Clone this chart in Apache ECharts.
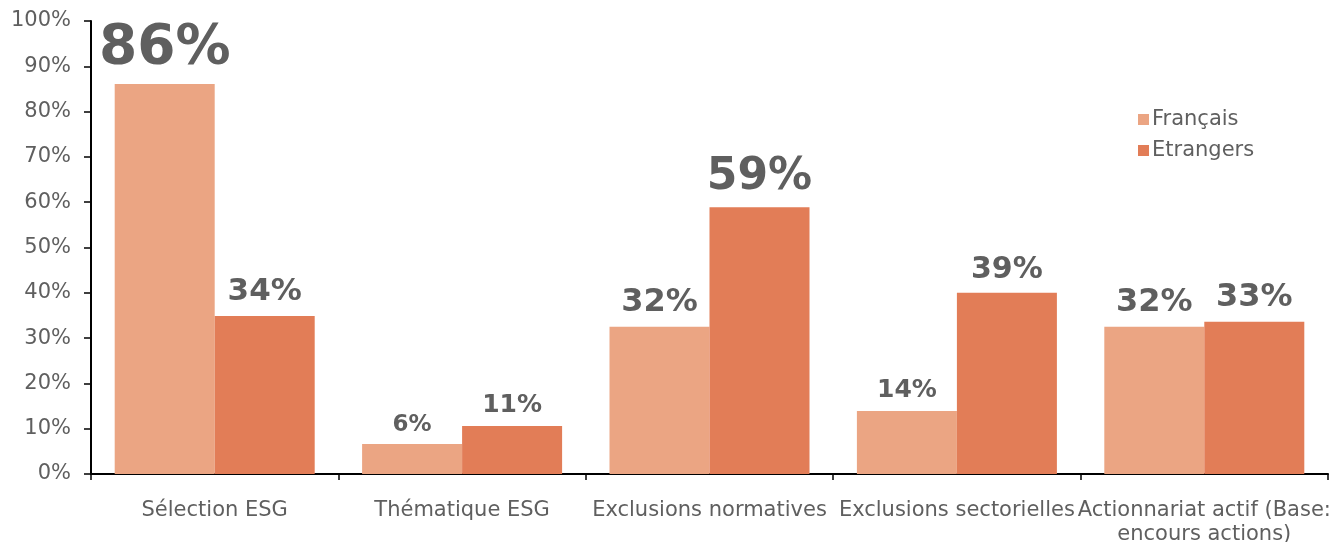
<!DOCTYPE html>
<html><head><meta charset="utf-8">
<script src="https://cdn.jsdelivr.net/npm/echarts@6/dist/echarts.min.js"></script>
<style>html,body{margin:0;padding:0;background:#fff}#c{width:1330px;height:542px}</style>
</head><body><div id="c"></div>
<script>
const categories = ['Sélection ESG', 'Thématique ESG', 'Exclusions normatives', 'Exclusions sectorielles', 'Actionnariat actif (Base:\nencours actions)'];
const francais = [86.1, 6.6, 32.5, 13.9, 32.5];
const etrangers = [34.9, 10.6, 58.9, 40.0, 33.6];
const francaisLabels = ['86%', '6%', '32%', '14%', '32%'];
const etrangersLabels = ['34%', '11%', '59%', '39%', '33%'];
const yTicks = [0, 10, 20, 30, 40, 50, 60, 70, 80, 90, 100];

// styles (separate from data)
const frSizes = [55, 23, 32, 25, 32];
const etSizes = [31, 25, 44, 30, 32];
const FONT = 'DejaVu Sans';
const GREY = '#5f5f5f';

function mk(values, labels, sizes) {
  return values.map((v, i) => ({
    value: v,
    label: { formatter: labels[i], fontSize: sizes[i] }
  }));
}

const chart = echarts.init(document.getElementById('c'));
chart.setOption({
  animation: false,
  textStyle: { fontFamily: FONT },
  grid: { left: 91, right: 2, top: 21, bottom: 68, containLabel: false, outerBoundsMode: 'none' },
  legend: {
    orient: 'vertical', left: 1133, top: 104,
    itemWidth: 11, itemHeight: 11, itemGap: 10,
    icon: 'rect',
    textStyle: { fontFamily: FONT, fontSize: 21, color: GREY, padding: [0, 0, 0, -2] },
    data: ['Français', 'Etrangers']
  },
  xAxis: {
    type: 'category', data: categories,
    axisLine: { lineStyle: { color: '#000', width: 2 } },
    axisTick: { show: true, length: 6, lineStyle: { color: '#000', width: 1.5 } },
    axisLabel: { interval: 0, margin: 25, fontSize: 21, color: GREY, lineHeight: 24, fontFamily: FONT, hideOverlap: false }
  },
  yAxis: {
    type: 'value', min: yTicks[0], max: yTicks[yTicks.length - 1], interval: 10,
    axisLine: { show: true, lineStyle: { color: '#000', width: 2 } },
    axisTick: { show: true, length: 7, lineStyle: { color: '#000', width: 1.5 } },
    splitLine: { show: false },
    axisLabel: { formatter: '{value}%', fontSize: 21, color: GREY, margin: 20, fontFamily: FONT }
  },
  series: [
    {
      name: 'Français', type: 'bar', barWidth: 100, barGap: '0%',
      itemStyle: { color: '#EBA583' },
      label: { show: true, position: 'top', distance: 8, fontWeight: 'bold', color: GREY, fontFamily: FONT },
      data: mk(francais, francaisLabels, frSizes)
    },
    {
      name: 'Etrangers', type: 'bar', barWidth: 100, barGap: '0%',
      itemStyle: { color: '#E27D57' },
      label: { show: true, position: 'top', distance: 8, fontWeight: 'bold', color: GREY, fontFamily: FONT },
      data: mk(etrangers, etrangersLabels, etSizes)
    }
  ]
});
</script></body></html>
